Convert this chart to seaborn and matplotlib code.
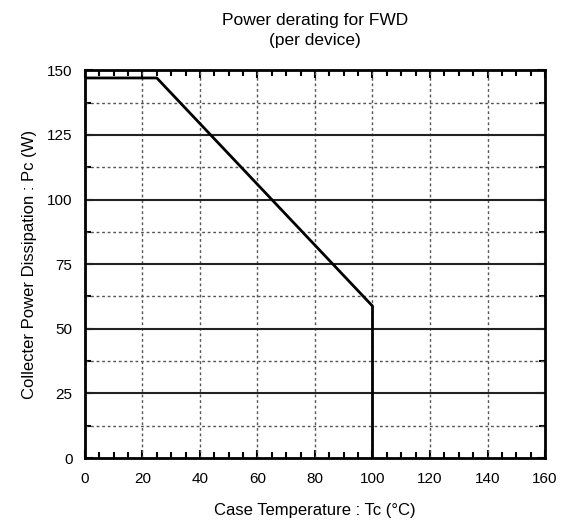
import matplotlib
matplotlib.use("Agg")
import matplotlib.pyplot as plt
import seaborn as sns
import pandas as pd
from matplotlib.ticker import MultipleLocator

temp_c = [0, 25, 100, 100]
power_w = [147, 147, 58.8, 0]

sns.set_style("white")
plt.rcParams['font.family'] = ['Liberation Sans', 'DejaVu Sans']
plt.rcParams['text.color'] = 'black'
plt.rcParams['axes.labelcolor'] = 'black'
plt.rcParams['xtick.color'] = 'black'
plt.rcParams['ytick.color'] = 'black'

df = pd.DataFrame({"Tc": temp_c, "Pc": power_w})

fig = plt.figure(figsize=(5.66, 5.2), dpi=100)
ax = fig.add_axes([0.150, 0.119, 0.813, 0.746])

ax.set_xlim(0, 160)
ax.set_ylim(0, 150)

# grid
for x in range(20, 160, 20):
    ax.axvline(x, color="#555555", lw=1.0, ls=(0, (2, 2)), zorder=1)
for y in [25, 50, 75, 100, 125]:
    ax.axhline(y, color="#222222", lw=1.5, zorder=1)
for y in [12.5, 37.5, 62.5, 87.5, 112.5, 137.5]:
    ax.axhline(y, color="#555555", lw=1.0, ls=(0, (2, 2)), zorder=1)

sns.lineplot(data=df, x="Tc", y="Pc", sort=False, estimator=None,
             color="black", lw=2.0, ax=ax, zorder=3)

ax.xaxis.set_major_locator(MultipleLocator(20))
ax.xaxis.set_minor_locator(MultipleLocator(5))
ax.yaxis.set_major_locator(MultipleLocator(25))
ax.yaxis.set_minor_locator(MultipleLocator(12.5))
ax.tick_params(which="both", direction="in", top=True, right=True, bottom=True, left=True,
               color="black", labelcolor="black", labelsize=11)
ax.tick_params(which="major", length=6, width=1.5)
ax.tick_params(which="minor", length=4, width=1.5)
ax.tick_params(axis="x", which="major", pad=10)
ax.tick_params(axis="y", which="major", pad=9)
for s in ax.spines.values():
    s.set_visible(True)
    s.set_color("black")
    s.set_linewidth(2.0)

ax.set_xlabel("Case Temperature : Tc (°C)", fontsize=12, labelpad=12, color="black")
ax.set_ylabel("Collecter Power Dissipation : Pc (W)", fontsize=12, labelpad=7, color="black")
ax.set_title("Power derating for FWD\n(per device)", fontsize=12.5, pad=18, linespacing=1.45,
             color="black")

fig.savefig("out.png", dpi=100)
